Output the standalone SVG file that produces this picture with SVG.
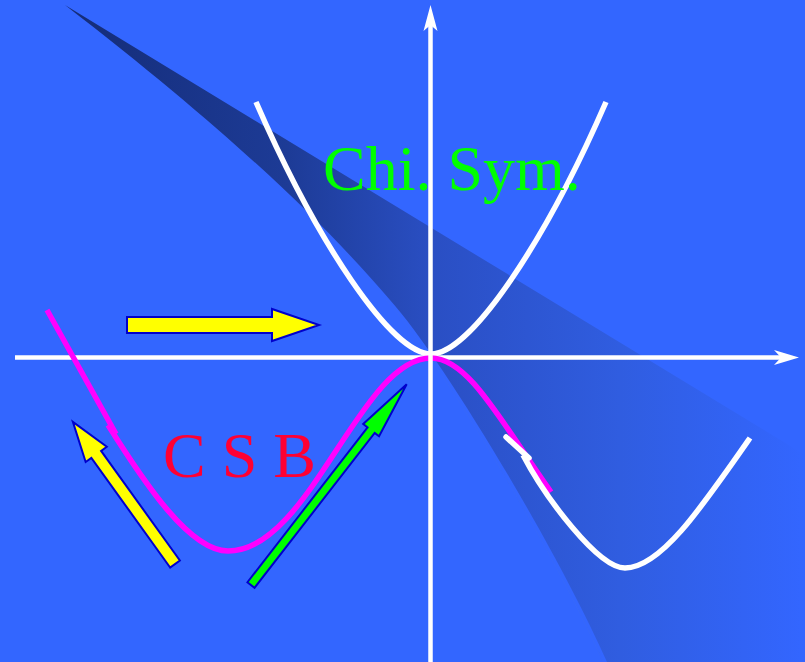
<svg xmlns="http://www.w3.org/2000/svg" width="805" height="662" viewBox="0 0 805 662">
  <defs>
    <linearGradient id="shade" gradientUnits="userSpaceOnUse" x1="65" y1="0" x2="805" y2="0">
      <stop offset="0" stop-color="#142c78"/>
      <stop offset="0.3" stop-color="#1d3b96"/>
      <stop offset="0.5" stop-color="#2a4fc4"/>
      <stop offset="0.75" stop-color="#305de0"/>
      <stop offset="1" stop-color="#3366ff"/>
    </linearGradient>
    <style>
      .axis { stroke: #ffffff; stroke-width: 4.5; fill: none; }
      .head { fill: #ffffff; }
      .wcurve { stroke: #ffffff; stroke-width: 5.5; fill: none; }
      .mcurve { stroke: #ff00ff; stroke-width: 5.5; fill: none; }
      .arrow { stroke: #0000cc; stroke-width: 2; stroke-linejoin: miter; }
      .lbl { font-family: "Liberation Serif", "Times New Roman", serif; font-size: 64px; }
    </style>
  </defs>

  <rect x="0" y="0" width="805" height="662" fill="#3366ff"/>

  <g id="shadow">
    <path d="M65,5 L805,455 L805,662 L607,662 C555,545 440,355 390,300 C330,230 240,140 65,5 Z" fill="url(#shade)"/>
    <path d="M603,662 C551,545 436,355 386,300" fill="none" stroke="#3a6af5" stroke-opacity="0.5" stroke-width="1"/>
  </g>

  <g id="x-axis">
    <line class="axis" x1="15" y1="357.5" x2="782" y2="357.5"/>
    <path class="head" d="M799,357.5 L774,350 L781,357.5 L774,365 Z"/>
  </g>

  <g id="upper-parabola">
    <path class="wcurve" d="M256,102 C316,240 391,354 431,354 C471,354 546,240 606,102"/>
  </g>

  <g id="csb-curve">
    <path class="mcurve" d="M47,310 L116,434"/>
    <path class="mcurve" d="M108,425 C145,484 190,551 228,551 C310,551 360,358 431,358 C468,358 500,420 551,492"/>
  </g>

  <g id="lower-right-curve">
    <path class="wcurve" d="M506,437 L529,458" stroke-linecap="round" stroke-width="7"/>
    <path class="wcurve" d="M523,455 C545,497 598,568 625,568 C660,568 700,510 750,438"/>
  </g>

  <g id="y-axis">
    <line class="axis" x1="430.5" y1="662" x2="430.5" y2="25"/>
    <path class="head" d="M430.5,5 L437.5,31 L430.5,25 L423.5,31 Z"/>
  </g>

  <g id="arrows">
    <polygon id="arrow-right" class="arrow" fill="#ffff00" points="127,317 272,317 272,309 319,325 272,341 272,333 127,333"/>
    <polygon id="arrow-up-left" class="arrow" fill="#ffff00" transform="translate(175,564) rotate(-125.7)" points="0,-6 135,-6 135,-13 175,0 135,13 135,6 0,6"/>
    <polygon id="arrow-up-right" class="arrow" fill="#00ff00" transform="translate(251,585) rotate(-52.2)" points="0,-4.5 196,-4.5 196,-10 254,0 196,10 196,4.5 0,4.5"/>
  </g>

  <g id="labels">
    <text id="chi-sym" class="lbl" x="323" y="190" fill="#00ff00">Chi. Sym.</text>
    <text id="csb" class="lbl" x="163" y="477" fill="#ff0033">C S B</text>
  </g>
</svg>
